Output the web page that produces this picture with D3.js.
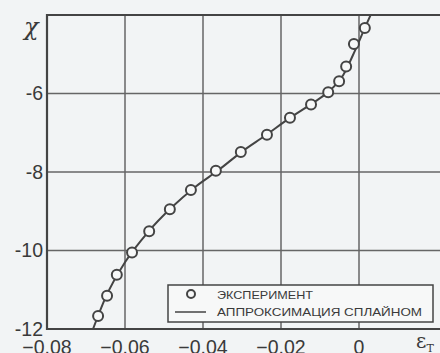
<!DOCTYPE html>
<html>
<head>
<meta charset="utf-8">
<script src="https://cdn.jsdelivr.net/npm/d3@7"></script>
<style>
  body { margin: 0; background: #f2f4f5; }
  text { font-family: "Liberation Sans", Arial, sans-serif; fill: #3a3a3a; }
</style>
</head>
<body>
<script>
// experimental points
var expX = [-0.0669, -0.0646, -0.0621, -0.0582, -0.0538, -0.0485, -0.0431, -0.0367,
            -0.0303, -0.0236, -0.0177, -0.0123, -0.0079, -0.0051, -0.0033, -0.0013, 0.0015];
var expY = [-11.67, -11.15, -10.62, -10.05, -9.51, -8.95, -8.46, -7.97,
            -7.49, -7.05, -6.62, -6.28, -5.97, -5.69, -5.31, -4.74, -4.33];

// spline approximation
var splX = [-0.0682, -0.0650, -0.0600, -0.0540, -0.0480, -0.0420, -0.0360, -0.0300,
            -0.0240, -0.0180, -0.0120, -0.0080, -0.0040, -0.0010, 0.0015, 0.0032];
var splY = [-12.0, -11.2, -10.3, -9.52, -8.90, -8.38, -7.95, -7.48,
            -7.07, -6.64, -6.25, -5.97, -5.52, -4.90, -4.33, -3.95];

var xTicks = [-0.08, -0.06, -0.04, -0.02, 0];
var yTicks = [-12, -10, -8, -6];
var legendLabels = ["ЭКСПЕРИМЕНТ", "АППРОКСИМАЦИЯ СПЛАЙНОМ"];

var W = 440, H = 353;
var svg = d3.select("body").append("svg")
    .attr("width", W)
    .attr("height", H);

var x = d3.scaleLinear().domain([-0.08, 0.02]).range([47, 437]);
var y = d3.scaleLinear().domain([-12, -4]).range([329, 15]);

var ink = "#444";

// grid
svg.append("g").selectAll("line.vg")
    .data(xTicks.slice(1))
    .enter().append("line")
    .attr("x1", function(d) { return x(d); })
    .attr("x2", function(d) { return x(d); })
    .attr("y1", y(-4)).attr("y2", y(-12))
    .attr("stroke", "#666").attr("stroke-width", 1.5);

svg.append("g").selectAll("line.hg")
    .data(yTicks.slice(1))
    .enter().append("line")
    .attr("x1", x(-0.08)).attr("x2", W)
    .attr("y1", function(d) { return y(d); })
    .attr("y2", function(d) { return y(d); })
    .attr("stroke", "#666").attr("stroke-width", 1.5);

// frame (right side runs off the picture)
svg.append("path")
    .attr("d", "M" + W + "," + y(-4) + "H" + x(-0.08) + "V" + y(-12) + "H" + W)
    .attr("fill", "none").attr("stroke", ink).attr("stroke-width", 2.2);

// tick labels
svg.append("g").selectAll("text")
    .data(yTicks)
    .enter().append("text")
    .attr("x", 43)
    .attr("y", function(d) { return y(d); })
    .attr("dy", "0.35em")
    .attr("text-anchor", "end")
    .style("font-size", "19.5px")
    .text(function(d) { return d; });

svg.append("g").selectAll("text")
    .data(xTicks)
    .enter().append("text")
    .attr("x", function(d) { return x(d); })
    .attr("y", 354)
    .attr("text-anchor", "middle")
    .style("font-size", "19.5px")
    .text(function(d) { return d === 0 ? "0" : d3.format(".2f")(d); });

// axis names
svg.append("text").attr("x", 24).attr("y", 35)
    .style("font-size", "24px").style("font-style", "italic")
    .style("font-family", "'DejaVu Serif', serif")
    .text("χ");
var eps = svg.append("text").attr("x", 416).attr("y", 348)
    .style("font-size", "20px").style("font-family", "'DejaVu Serif', serif");
eps.append("tspan").text("ε");
eps.append("tspan").attr("dy", 4).style("font-size", "11px").text("T");

// spline
svg.append("clipPath").attr("id", "clip")
    .append("rect").attr("x", x(-0.08)).attr("y", y(-4))
    .attr("width", W - x(-0.08)).attr("height", y(-12) - y(-4));

var line = d3.line()
    .x(function(d) { return x(d[0]); })
    .y(function(d) { return y(d[1]); })
    .curve(d3.curveMonotoneX);

svg.append("path")
    .datum(d3.zip(splX, splY))
    .attr("clip-path", "url(#clip)")
    .attr("d", line)
    .attr("fill", "none").attr("stroke", ink).attr("stroke-width", 2);

// experimental circles
svg.append("g").selectAll("circle")
    .data(d3.zip(expX, expY))
    .enter().append("circle")
    .attr("cx", function(d) { return x(d[0]); })
    .attr("cy", function(d) { return y(d[1]); })
    .attr("r", 5)
    .attr("fill", "#f7f8f8")
    .attr("stroke", ink).attr("stroke-width", 2);

// legend
var lg = svg.append("g");
lg.append("rect").attr("x", 168).attr("y", 285).attr("width", 265).attr("height", 37)
    .attr("fill", "#f7f8f8").attr("stroke", ink).attr("stroke-width", 1.5);
lg.append("circle").attr("cx", 191).attr("cy", 294).attr("r", 4)
    .attr("fill", "#f7f8f8").attr("stroke", ink).attr("stroke-width", 2);
lg.append("line").attr("x1", 175).attr("x2", 206).attr("y1", 312).attr("y2", 312)
    .attr("stroke", ink).attr("stroke-width", 1.5);
lg.selectAll("text")
    .data(legendLabels)
    .enter().append("text")
    .attr("x", 217)
    .attr("y", function(d, i) { return 299 + i * 17; })
    .attr("textLength", function(d, i) { return i === 0 ? 96 : 205; })
    .attr("lengthAdjust", "spacingAndGlyphs")
    .style("font-size", "11.5px")
    .text(function(d) { return d; });
</script>
</body>
</html>
